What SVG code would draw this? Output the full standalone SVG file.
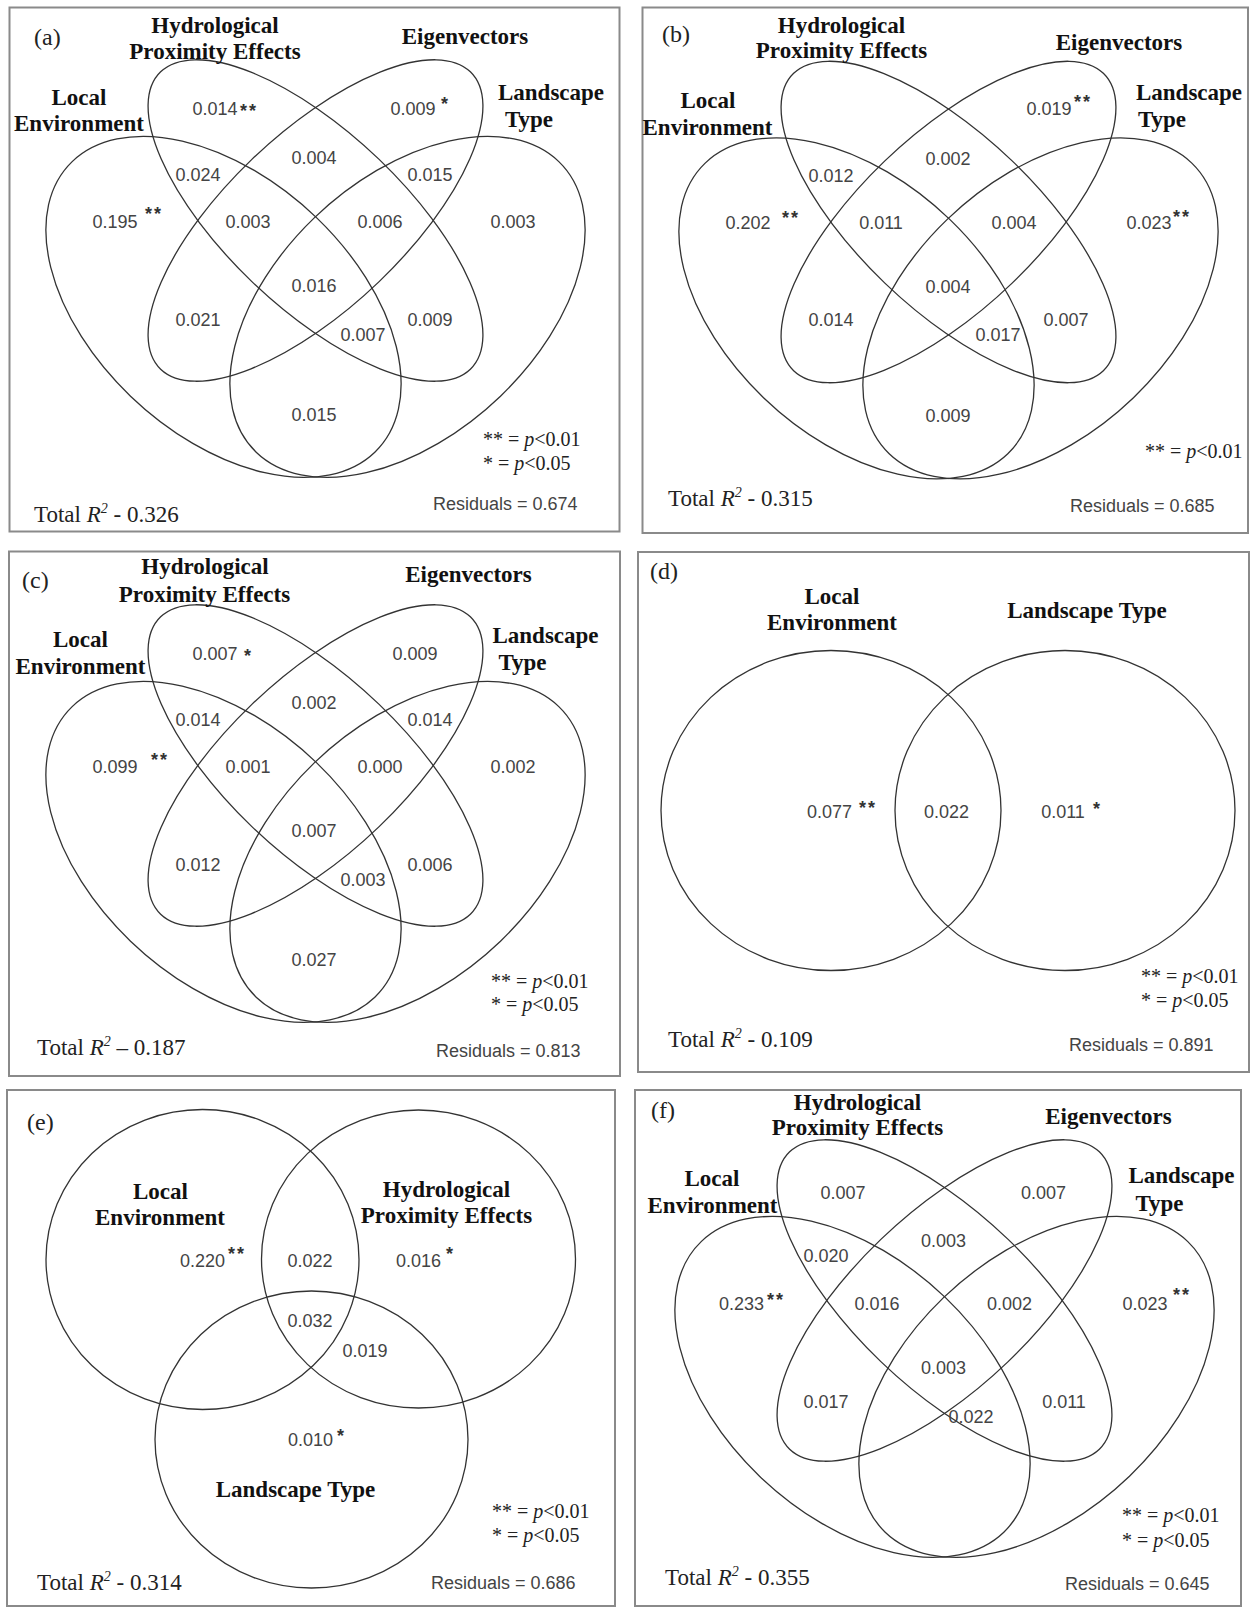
<svg xmlns="http://www.w3.org/2000/svg" width="1253" height="1608" viewBox="0 0 1253 1608">
<style>
.bg{fill:#fff}
.box{fill:none;stroke:#8a8a8a;stroke-width:2}
.ven{fill:none;stroke:#333;stroke-width:1.3;vector-effect:non-scaling-stroke}
.hd{font-family:"Liberation Serif",serif;font-weight:bold;font-size:23px;fill:#111;text-anchor:middle}
.num{font-family:"Liberation Sans",sans-serif;font-size:18px;fill:#444;text-anchor:middle}
.ast{font-family:"Liberation Sans",sans-serif;font-size:18px;font-weight:bold;fill:#333;letter-spacing:2px}
.pl{font-family:"Liberation Serif",serif;font-size:24px;fill:#222}
.tot{font-family:"Liberation Serif",serif;font-size:23px;fill:#222}
.res{font-family:"Liberation Sans",sans-serif;font-size:18px;fill:#444}
.leg{font-family:"Liberation Serif",serif;font-size:20px;fill:#222}
.it{font-style:italic}
</style>
<rect class="bg" x="0" y="0" width="1253" height="1608"/>

<!-- ===== Panel (a) ===== -->
<g id="panel-a">
<rect class="box" x="9.5" y="7.5" width="610" height="524"/>
<g id="a-sets" transform="translate(315.5,220.5) scale(1,0.96)">
<ellipse id="a-local" class="ven" cx="-92" cy="90" rx="214" ry="131.5" transform="rotate(45 -92 90)"/>
<ellipse id="a-landscape" class="ven" cx="92" cy="90" rx="214" ry="131.5" transform="rotate(-45 92 90)"/>
<ellipse id="a-hydro" class="ven" cx="0" cy="0" rx="219" ry="90" transform="rotate(45)"/>
<ellipse id="a-eigen" class="ven" cx="0" cy="0" rx="219" ry="90" transform="rotate(-45)"/>
</g>
<text class="pl" x="34" y="45">(a)</text>
<text class="hd" x="215" y="33">Hydrological</text>
<text class="hd" x="215" y="58.5">Proximity Effects</text>
<text class="hd" x="465" y="44">Eigenvectors</text>
<text class="hd" x="79" y="105">Local</text>
<text class="hd" x="79" y="131">Environment</text>
<text class="hd" x="551" y="100">Landscape</text>
<text class="hd" x="529" y="127">Type</text>
<text class="num" x="215" y="115">0.014</text><text class="ast" x="240" y="117">**</text>
<text class="num" x="413" y="115">0.009</text><text class="ast" x="441" y="110">*</text>
<text class="num" x="314" y="163.5">0.004</text>
<text class="num" x="198" y="181">0.024</text>
<text class="num" x="430" y="181">0.015</text>
<text class="num" x="115" y="228">0.195</text><text class="ast" x="145" y="220">**</text>
<text class="num" x="248" y="228">0.003</text>
<text class="num" x="380" y="228">0.006</text>
<text class="num" x="513" y="228">0.003</text>
<text class="num" x="314" y="292">0.016</text>
<text class="num" x="198" y="325.5">0.021</text>
<text class="num" x="430" y="325.5">0.009</text>
<text class="num" x="363" y="341">0.007</text>
<text class="num" x="314" y="421">0.015</text>
<text class="leg" x="483" y="446">** = <tspan class="it">p</tspan>&lt;0.01</text>
<text class="leg" x="483" y="470">* = <tspan class="it">p</tspan>&lt;0.05</text>
<text class="tot" x="34" y="521.5">Total <tspan class="it">R</tspan><tspan class="it" font-size="14" dy="-9">2</tspan><tspan dy="9"> - 0.326</tspan></text>
<text class="res" x="433" y="510">Residuals = 0.674</text>
</g>

<!-- ===== Panel (b) ===== -->
<g id="panel-b">
<rect class="box" x="642.5" y="7.5" width="605.5" height="525.5"/>
<g id="b-sets" transform="translate(948.5,222) scale(1,0.96)">
<ellipse id="b-local" class="ven" cx="-92" cy="90" rx="214" ry="131.5" transform="rotate(45 -92 90)"/>
<ellipse id="b-landscape" class="ven" cx="92" cy="90" rx="214" ry="131.5" transform="rotate(-45 92 90)"/>
<ellipse id="b-hydro" class="ven" cx="0" cy="0" rx="219" ry="90" transform="rotate(45)"/>
<ellipse id="b-eigen" class="ven" cx="0" cy="0" rx="219" ry="90" transform="rotate(-45)"/>
</g>
<text class="pl" x="662" y="41.5">(b)</text>
<text class="hd" x="841.5" y="33">Hydrological</text>
<text class="hd" x="841.5" y="58">Proximity Effects</text>
<text class="hd" x="1119" y="50">Eigenvectors</text>
<text class="hd" x="708" y="108">Local</text>
<text class="hd" x="707.5" y="135">Environment</text>
<text class="hd" x="1189" y="100">Landscape</text>
<text class="hd" x="1162" y="127">Type</text>
<text class="num" x="1049" y="115">0.019</text><text class="ast" x="1074" y="108">**</text>
<text class="num" x="948" y="165">0.002</text>
<text class="num" x="831" y="181.5">0.012</text>
<text class="num" x="748" y="229">0.202</text><text class="ast" x="782" y="224">**</text>
<text class="num" x="881" y="229">0.011</text>
<text class="num" x="1014" y="229">0.004</text>
<text class="num" x="1149" y="229">0.023</text><text class="ast" x="1173" y="223">**</text>
<text class="num" x="948" y="293">0.004</text>
<text class="num" x="831" y="325.5">0.014</text>
<text class="num" x="1066" y="325.5">0.007</text>
<text class="num" x="998" y="341">0.017</text>
<text class="num" x="948" y="422">0.009</text>
<text class="leg" x="1145" y="458">** = <tspan class="it">p</tspan>&lt;0.01</text>
<text class="tot" x="668" y="506">Total <tspan class="it">R</tspan><tspan class="it" font-size="14" dy="-9">2</tspan><tspan dy="9"> - 0.315</tspan></text>
<text class="res" x="1070" y="512">Residuals = 0.685</text>
</g>

<!-- ===== Panel (c) ===== -->
<g id="panel-c">
<rect class="box" x="9" y="551.5" width="611" height="524.5"/>
<g id="c-sets" transform="translate(315.5,765.5) scale(1,0.96)">
<ellipse id="c-local" class="ven" cx="-92" cy="90" rx="214" ry="131.5" transform="rotate(45 -92 90)"/>
<ellipse id="c-landscape" class="ven" cx="92" cy="90" rx="214" ry="131.5" transform="rotate(-45 92 90)"/>
<ellipse id="c-hydro" class="ven" cx="0" cy="0" rx="219" ry="90" transform="rotate(45)"/>
<ellipse id="c-eigen" class="ven" cx="0" cy="0" rx="219" ry="90" transform="rotate(-45)"/>
</g>
<text class="pl" x="22" y="588">(c)</text>
<text class="hd" x="205" y="574">Hydrological</text>
<text class="hd" x="204.5" y="601.5">Proximity Effects</text>
<text class="hd" x="468.5" y="582">Eigenvectors</text>
<text class="hd" x="80.5" y="646.5">Local</text>
<text class="hd" x="80.5" y="673.5">Environment</text>
<text class="hd" x="545.5" y="643">Landscape</text>
<text class="hd" x="522.5" y="670">Type</text>
<text class="num" x="215" y="660">0.007</text><text class="ast" x="244" y="661.5">*</text>
<text class="num" x="415" y="660">0.009</text>
<text class="num" x="314" y="708.5">0.002</text>
<text class="num" x="198" y="726">0.014</text>
<text class="num" x="430" y="726">0.014</text>
<text class="num" x="115" y="773">0.099</text><text class="ast" x="151" y="766">**</text>
<text class="num" x="248" y="773">0.001</text>
<text class="num" x="380" y="773">0.000</text>
<text class="num" x="513" y="773">0.002</text>
<text class="num" x="314" y="837">0.007</text>
<text class="num" x="198" y="870.5">0.012</text>
<text class="num" x="430" y="870.5">0.006</text>
<text class="num" x="363" y="886">0.003</text>
<text class="num" x="314" y="966">0.027</text>
<text class="leg" x="491" y="988">** = <tspan class="it">p</tspan>&lt;0.01</text>
<text class="leg" x="491" y="1010.5">* = <tspan class="it">p</tspan>&lt;0.05</text>
<text class="tot" x="37" y="1054.5">Total <tspan class="it">R</tspan><tspan class="it" font-size="14" dy="-9">2</tspan><tspan dy="9"> – 0.187</tspan></text>
<text class="res" x="436" y="1056.5">Residuals = 0.813</text>
</g>

<!-- ===== Panel (d) ===== -->
<g id="panel-d">
<rect class="box" x="638" y="552" width="611" height="520"/>
<ellipse id="d-local" class="ven" cx="831" cy="810.5" rx="170" ry="160"/>
<ellipse id="d-landscape" class="ven" cx="1065" cy="810.5" rx="170" ry="160"/>
<text class="pl" x="650" y="579">(d)</text>
<text class="hd" x="832" y="604">Local</text>
<text class="hd" x="832" y="629.5">Environment</text>
<text class="hd" x="1087" y="617.5">Landscape Type</text>
<text class="num" x="829.5" y="818">0.077</text><text class="ast" x="859" y="813.5">**</text>
<text class="num" x="946.5" y="818">0.022</text>
<text class="num" x="1063" y="818">0.011</text><text class="ast" x="1093" y="815">*</text>
<text class="leg" x="1141" y="983">** = <tspan class="it">p</tspan>&lt;0.01</text>
<text class="leg" x="1141" y="1006.5">* = <tspan class="it">p</tspan>&lt;0.05</text>
<text class="tot" x="668" y="1047">Total <tspan class="it">R</tspan><tspan class="it" font-size="14" dy="-9">2</tspan><tspan dy="9"> - 0.109</tspan></text>
<text class="res" x="1069" y="1051">Residuals = 0.891</text>
</g>

<!-- ===== Panel (e) ===== -->
<g id="panel-e">
<rect class="box" x="7" y="1090" width="608" height="516"/>
<ellipse id="e-local" class="ven" cx="202.5" cy="1259.5" rx="156.5" ry="150"/>
<ellipse id="e-hydro" class="ven" cx="418.5" cy="1259" rx="157" ry="149"/>
<ellipse id="e-landscape" class="ven" cx="311.5" cy="1439.5" rx="156.5" ry="148.5"/>
<text class="pl" x="27" y="1130">(e)</text>
<text class="hd" x="160.5" y="1198.5">Local</text>
<text class="hd" x="160" y="1225">Environment</text>
<text class="hd" x="446.5" y="1197">Hydrological</text>
<text class="hd" x="446.5" y="1222.5">Proximity Effects</text>
<text class="hd" x="295.5" y="1497">Landscape Type</text>
<text class="num" x="202.5" y="1267">0.220</text><text class="ast" x="228" y="1260">**</text>
<text class="num" x="310" y="1267">0.022</text>
<text class="num" x="418.5" y="1267">0.016</text><text class="ast" x="446" y="1260">*</text>
<text class="num" x="310" y="1327">0.032</text>
<text class="num" x="365" y="1356.5">0.019</text>
<text class="num" x="310.5" y="1445.5">0.010</text><text class="ast" x="337" y="1442">*</text>
<text class="leg" x="492" y="1517.5">** = <tspan class="it">p</tspan>&lt;0.01</text>
<text class="leg" x="492" y="1541.5">* = <tspan class="it">p</tspan>&lt;0.05</text>
<text class="tot" x="37" y="1590">Total <tspan class="it">R</tspan><tspan class="it" font-size="14" dy="-9">2</tspan><tspan dy="9"> - 0.314</tspan></text>
<text class="res" x="431" y="1589">Residuals = 0.686</text>
</g>

<!-- ===== Panel (f) ===== -->
<g id="panel-f">
<rect class="box" x="635" y="1090" width="606" height="516"/>
<g id="f-sets" transform="translate(944.5,1300.5) scale(1,0.96)">
<ellipse id="f-local" class="ven" cx="-92" cy="90" rx="214" ry="131.5" transform="rotate(45 -92 90)"/>
<ellipse id="f-landscape" class="ven" cx="92" cy="90" rx="214" ry="131.5" transform="rotate(-45 92 90)"/>
<ellipse id="f-hydro" class="ven" cx="0" cy="0" rx="219" ry="90" transform="rotate(45)"/>
<ellipse id="f-eigen" class="ven" cx="0" cy="0" rx="219" ry="90" transform="rotate(-45)"/>
</g>
<text class="pl" x="651" y="1118">(f)</text>
<text class="hd" x="857.5" y="1109.5">Hydrological</text>
<text class="hd" x="857.5" y="1135">Proximity Effects</text>
<text class="hd" x="1108.5" y="1124">Eigenvectors</text>
<text class="hd" x="712" y="1186">Local</text>
<text class="hd" x="712.5" y="1212.5">Environment</text>
<text class="hd" x="1181.5" y="1183">Landscape</text>
<text class="hd" x="1159.5" y="1210.5">Type</text>
<text class="num" x="843" y="1198.5">0.007</text>
<text class="num" x="1043.5" y="1198.5">0.007</text>
<text class="num" x="943.5" y="1246.5">0.003</text>
<text class="num" x="826" y="1262">0.020</text>
<text class="num" x="741.5" y="1310">0.233</text><text class="ast" x="767" y="1306">**</text>
<text class="num" x="877" y="1310">0.016</text>
<text class="num" x="1009.5" y="1310">0.002</text>
<text class="num" x="1145" y="1310">0.023</text><text class="ast" x="1173" y="1301">**</text>
<text class="num" x="943.5" y="1373.5">0.003</text>
<text class="num" x="826" y="1408">0.017</text>
<text class="num" x="1064" y="1408">0.011</text>
<text class="num" x="971" y="1423">0.022</text>
<text class="leg" x="1122" y="1522">** = <tspan class="it">p</tspan>&lt;0.01</text>
<text class="leg" x="1122" y="1547">* = <tspan class="it">p</tspan>&lt;0.05</text>
<text class="tot" x="665" y="1584.5">Total <tspan class="it">R</tspan><tspan class="it" font-size="14" dy="-9">2</tspan><tspan dy="9"> - 0.355</tspan></text>
<text class="res" x="1065" y="1590">Residuals = 0.645</text>
</g>
</svg>
